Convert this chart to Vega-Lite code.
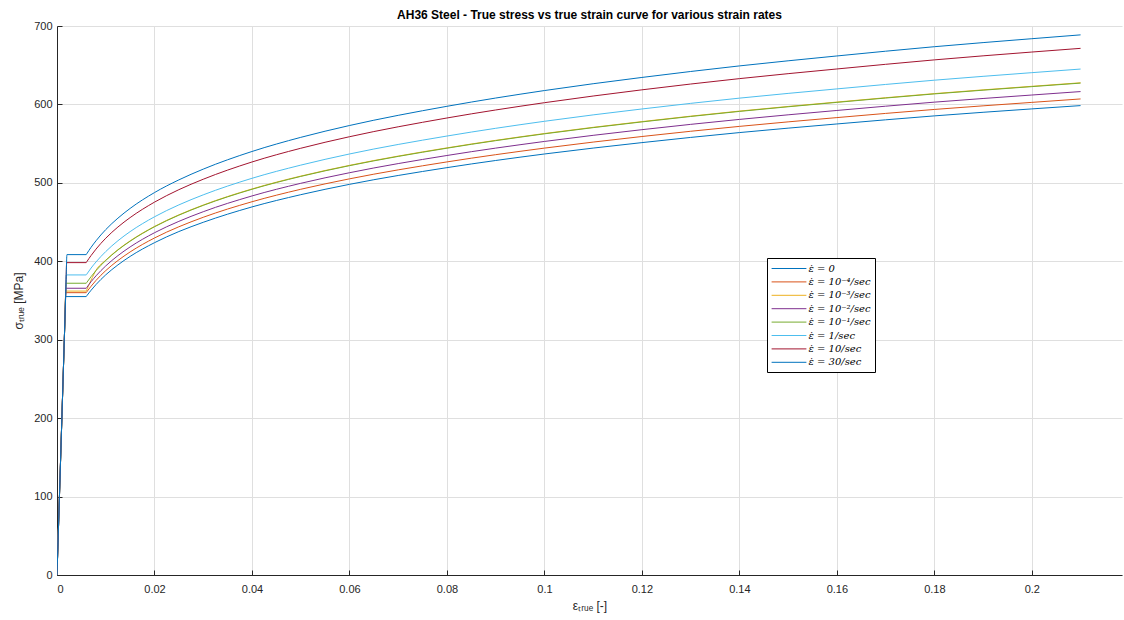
{
  "$schema": "https://vega.github.io/schema/vega-lite/v6.json",
  "width": 1065,
  "height": 549,
  "autosize": {"type": "none"},
  "padding": {"left": 57, "top": 26, "right": 2, "bottom": 45},
  "background": "white",
  "title": {
    "text": "AH36 Steel - True stress vs true strain curve for various strain rates",
    "font": "Liberation Sans",
    "fontSize": 12,
    "fontWeight": "bold",
    "color": "#000000",
    "anchor": "middle",
    "offset": -2
  },
  "config": {
    "view": {"stroke": null},
    "axis": {
      "labelFont": "Liberation Sans",
      "labelFontSize": 11,
      "labelColor": "#262626",
      "titleFont": "Liberation Sans",
      "titleFontSize": 12,
      "titleFontWeight": "normal",
      "titleColor": "#262626",
      "domainColor": "#262626",
      "tickColor": "#262626",
      "gridColor": "#dfdfdf",
      "gridOpacity": 1
    }
  },
  "data": {
    "values": [
      {"rate": "ε̇ = 0", "strain": 0, "stress": 0},
      {"rate": "ε̇ = 0", "strain": 0.0015975, "stress": 319.5},
      {"rate": "ε̇ = 0", "strain": 0.001775, "stress": 355},
      {"rate": "ε̇ = 0", "strain": 0.006, "stress": 355},
      {"rate": "ε̇ = 0", "strain": 0.0061, "stress": 355.9},
      {"rate": "ε̇ = 0", "strain": 0.007, "stress": 363.1},
      {"rate": "ε̇ = 0", "strain": 0.008, "stress": 370.3},
      {"rate": "ε̇ = 0", "strain": 0.01, "stress": 382.7},
      {"rate": "ε̇ = 0", "strain": 0.0125, "stress": 395.4},
      {"rate": "ε̇ = 0", "strain": 0.015, "stress": 406.2},
      {"rate": "ε̇ = 0", "strain": 0.02, "stress": 423.7},
      {"rate": "ε̇ = 0", "strain": 0.025, "stress": 437.9},
      {"rate": "ε̇ = 0", "strain": 0.03, "stress": 449.7},
      {"rate": "ε̇ = 0", "strain": 0.04, "stress": 469.3},
      {"rate": "ε̇ = 0", "strain": 0.05, "stress": 484.9},
      {"rate": "ε̇ = 0", "strain": 0.06, "stress": 498.1},
      {"rate": "ε̇ = 0", "strain": 0.08, "stress": 519.4},
      {"rate": "ε̇ = 0", "strain": 0.1, "stress": 536.8},
      {"rate": "ε̇ = 0", "strain": 0.12, "stress": 551.3},
      {"rate": "ε̇ = 0", "strain": 0.14, "stress": 564.1},
      {"rate": "ε̇ = 0", "strain": 0.16, "stress": 575.1},
      {"rate": "ε̇ = 0", "strain": 0.18, "stress": 585.4},
      {"rate": "ε̇ = 0", "strain": 0.2, "stress": 594.3},
      {"rate": "ε̇ = 0", "strain": 0.21, "stress": 598.5},

      {"rate": "ε̇ = 10⁻⁴/sec", "strain": 0, "stress": 0},
      {"rate": "ε̇ = 10⁻⁴/sec", "strain": 0.00162, "stress": 324},
      {"rate": "ε̇ = 10⁻⁴/sec", "strain": 0.0018, "stress": 360},
      {"rate": "ε̇ = 10⁻⁴/sec", "strain": 0.006, "stress": 360},
      {"rate": "ε̇ = 10⁻⁴/sec", "strain": 0.0061, "stress": 360.9},
      {"rate": "ε̇ = 10⁻⁴/sec", "strain": 0.007, "stress": 368.2},
      {"rate": "ε̇ = 10⁻⁴/sec", "strain": 0.008, "stress": 375.6},
      {"rate": "ε̇ = 10⁻⁴/sec", "strain": 0.01, "stress": 388.1},
      {"rate": "ε̇ = 10⁻⁴/sec", "strain": 0.0125, "stress": 401.0},
      {"rate": "ε̇ = 10⁻⁴/sec", "strain": 0.015, "stress": 411.9},
      {"rate": "ε̇ = 10⁻⁴/sec", "strain": 0.02, "stress": 429.7},
      {"rate": "ε̇ = 10⁻⁴/sec", "strain": 0.025, "stress": 444.0},
      {"rate": "ε̇ = 10⁻⁴/sec", "strain": 0.03, "stress": 456.1},
      {"rate": "ε̇ = 10⁻⁴/sec", "strain": 0.04, "stress": 475.9},
      {"rate": "ε̇ = 10⁻⁴/sec", "strain": 0.05, "stress": 491.8},
      {"rate": "ε̇ = 10⁻⁴/sec", "strain": 0.06, "stress": 505.1},
      {"rate": "ε̇ = 10⁻⁴/sec", "strain": 0.08, "stress": 526.7},
      {"rate": "ε̇ = 10⁻⁴/sec", "strain": 0.1, "stress": 544.3},
      {"rate": "ε̇ = 10⁻⁴/sec", "strain": 0.12, "stress": 559.1},
      {"rate": "ε̇ = 10⁻⁴/sec", "strain": 0.14, "stress": 572.0},
      {"rate": "ε̇ = 10⁻⁴/sec", "strain": 0.16, "stress": 583.2},
      {"rate": "ε̇ = 10⁻⁴/sec", "strain": 0.18, "stress": 593.6},
      {"rate": "ε̇ = 10⁻⁴/sec", "strain": 0.2, "stress": 602.6},
      {"rate": "ε̇ = 10⁻⁴/sec", "strain": 0.21, "stress": 607.0},

      {"rate": "ε̇ = 10⁻³/sec", "strain": 0, "stress": 0},
      {"rate": "ε̇ = 10⁻³/sec", "strain": 0.001629, "stress": 325.8},
      {"rate": "ε̇ = 10⁻³/sec", "strain": 0.00181, "stress": 362},
      {"rate": "ε̇ = 10⁻³/sec", "strain": 0.006, "stress": 362},
      {"rate": "ε̇ = 10⁻³/sec", "strain": 0.0061, "stress": 363.5},
      {"rate": "ε̇ = 10⁻³/sec", "strain": 0.007, "stress": 376.0},
      {"rate": "ε̇ = 10⁻³/sec", "strain": 0.008, "stress": 388.5},
      {"rate": "ε̇ = 10⁻³/sec", "strain": 0.01, "stress": 401.4},
      {"rate": "ε̇ = 10⁻³/sec", "strain": 0.0125, "stress": 414.8},
      {"rate": "ε̇ = 10⁻³/sec", "strain": 0.015, "stress": 426.0},
      {"rate": "ε̇ = 10⁻³/sec", "strain": 0.02, "stress": 444.4},
      {"rate": "ε̇ = 10⁻³/sec", "strain": 0.025, "stress": 459.2},
      {"rate": "ε̇ = 10⁻³/sec", "strain": 0.03, "stress": 471.7},
      {"rate": "ε̇ = 10⁻³/sec", "strain": 0.04, "stress": 492.2},
      {"rate": "ε̇ = 10⁻³/sec", "strain": 0.05, "stress": 508.6},
      {"rate": "ε̇ = 10⁻³/sec", "strain": 0.06, "stress": 522.3},
      {"rate": "ε̇ = 10⁻³/sec", "strain": 0.08, "stress": 544.6},
      {"rate": "ε̇ = 10⁻³/sec", "strain": 0.1, "stress": 562.9},
      {"rate": "ε̇ = 10⁻³/sec", "strain": 0.12, "stress": 578.1},
      {"rate": "ε̇ = 10⁻³/sec", "strain": 0.14, "stress": 591.5},
      {"rate": "ε̇ = 10⁻³/sec", "strain": 0.16, "stress": 603.0},
      {"rate": "ε̇ = 10⁻³/sec", "strain": 0.18, "stress": 613.8},
      {"rate": "ε̇ = 10⁻³/sec", "strain": 0.2, "stress": 623.1},
      {"rate": "ε̇ = 10⁻³/sec", "strain": 0.21, "stress": 627.6},

      {"rate": "ε̇ = 10⁻²/sec", "strain": 0, "stress": 0},
      {"rate": "ε̇ = 10⁻²/sec", "strain": 0.001645, "stress": 329.0},
      {"rate": "ε̇ = 10⁻²/sec", "strain": 0.00183, "stress": 365.6},
      {"rate": "ε̇ = 10⁻²/sec", "strain": 0.006, "stress": 365.6},
      {"rate": "ε̇ = 10⁻²/sec", "strain": 0.0061, "stress": 366.5},
      {"rate": "ε̇ = 10⁻²/sec", "strain": 0.007, "stress": 374.0},
      {"rate": "ε̇ = 10⁻²/sec", "strain": 0.008, "stress": 381.4},
      {"rate": "ε̇ = 10⁻²/sec", "strain": 0.01, "stress": 394.1},
      {"rate": "ε̇ = 10⁻²/sec", "strain": 0.0125, "stress": 407.2},
      {"rate": "ε̇ = 10⁻²/sec", "strain": 0.015, "stress": 418.3},
      {"rate": "ε̇ = 10⁻²/sec", "strain": 0.02, "stress": 436.4},
      {"rate": "ε̇ = 10⁻²/sec", "strain": 0.025, "stress": 450.9},
      {"rate": "ε̇ = 10⁻²/sec", "strain": 0.03, "stress": 463.2},
      {"rate": "ε̇ = 10⁻²/sec", "strain": 0.04, "stress": 483.3},
      {"rate": "ε̇ = 10⁻²/sec", "strain": 0.05, "stress": 499.4},
      {"rate": "ε̇ = 10⁻²/sec", "strain": 0.06, "stress": 512.9},
      {"rate": "ε̇ = 10⁻²/sec", "strain": 0.08, "stress": 534.9},
      {"rate": "ε̇ = 10⁻²/sec", "strain": 0.1, "stress": 552.8},
      {"rate": "ε̇ = 10⁻²/sec", "strain": 0.12, "stress": 567.8},
      {"rate": "ε̇ = 10⁻²/sec", "strain": 0.14, "stress": 580.9},
      {"rate": "ε̇ = 10⁻²/sec", "strain": 0.16, "stress": 592.3},
      {"rate": "ε̇ = 10⁻²/sec", "strain": 0.18, "stress": 602.9},
      {"rate": "ε̇ = 10⁻²/sec", "strain": 0.2, "stress": 612.0},
      {"rate": "ε̇ = 10⁻²/sec", "strain": 0.21, "stress": 616.4},

      {"rate": "ε̇ = 10⁻¹/sec", "strain": 0, "stress": 0},
      {"rate": "ε̇ = 10⁻¹/sec", "strain": 0.001674, "stress": 334.8},
      {"rate": "ε̇ = 10⁻¹/sec", "strain": 0.00186, "stress": 372},
      {"rate": "ε̇ = 10⁻¹/sec", "strain": 0.006, "stress": 372},
      {"rate": "ε̇ = 10⁻¹/sec", "strain": 0.0061, "stress": 372.9},
      {"rate": "ε̇ = 10⁻¹/sec", "strain": 0.007, "stress": 380.5},
      {"rate": "ε̇ = 10⁻¹/sec", "strain": 0.008, "stress": 388.1},
      {"rate": "ε̇ = 10⁻¹/sec", "strain": 0.01, "stress": 401.0},
      {"rate": "ε̇ = 10⁻¹/sec", "strain": 0.0125, "stress": 414.4},
      {"rate": "ε̇ = 10⁻¹/sec", "strain": 0.015, "stress": 425.6},
      {"rate": "ε̇ = 10⁻¹/sec", "strain": 0.02, "stress": 444.0},
      {"rate": "ε̇ = 10⁻¹/sec", "strain": 0.025, "stress": 458.8},
      {"rate": "ε̇ = 10⁻¹/sec", "strain": 0.03, "stress": 471.3},
      {"rate": "ε̇ = 10⁻¹/sec", "strain": 0.04, "stress": 491.8},
      {"rate": "ε̇ = 10⁻¹/sec", "strain": 0.05, "stress": 508.2},
      {"rate": "ε̇ = 10⁻¹/sec", "strain": 0.06, "stress": 521.9},
      {"rate": "ε̇ = 10⁻¹/sec", "strain": 0.08, "stress": 544.2},
      {"rate": "ε̇ = 10⁻¹/sec", "strain": 0.1, "stress": 562.5},
      {"rate": "ε̇ = 10⁻¹/sec", "strain": 0.12, "stress": 577.7},
      {"rate": "ε̇ = 10⁻¹/sec", "strain": 0.14, "stress": 591.1},
      {"rate": "ε̇ = 10⁻¹/sec", "strain": 0.16, "stress": 602.6},
      {"rate": "ε̇ = 10⁻¹/sec", "strain": 0.18, "stress": 613.4},
      {"rate": "ε̇ = 10⁻¹/sec", "strain": 0.2, "stress": 622.7},
      {"rate": "ε̇ = 10⁻¹/sec", "strain": 0.21, "stress": 627.2},

      {"rate": "ε̇ = 1/sec", "strain": 0, "stress": 0},
      {"rate": "ε̇ = 1/sec", "strain": 0.001722, "stress": 344.3},
      {"rate": "ε̇ = 1/sec", "strain": 0.00191, "stress": 382.6},
      {"rate": "ε̇ = 1/sec", "strain": 0.006, "stress": 382.6},
      {"rate": "ε̇ = 1/sec", "strain": 0.0061, "stress": 383.5},
      {"rate": "ε̇ = 1/sec", "strain": 0.007, "stress": 391.4},
      {"rate": "ε̇ = 1/sec", "strain": 0.008, "stress": 399.1},
      {"rate": "ε̇ = 1/sec", "strain": 0.01, "stress": 412.4},
      {"rate": "ε̇ = 1/sec", "strain": 0.0125, "stress": 426.2},
      {"rate": "ε̇ = 1/sec", "strain": 0.015, "stress": 437.8},
      {"rate": "ε̇ = 1/sec", "strain": 0.02, "stress": 456.7},
      {"rate": "ε̇ = 1/sec", "strain": 0.025, "stress": 471.9},
      {"rate": "ε̇ = 1/sec", "strain": 0.03, "stress": 484.7},
      {"rate": "ε̇ = 1/sec", "strain": 0.04, "stress": 505.8},
      {"rate": "ε̇ = 1/sec", "strain": 0.05, "stress": 522.6},
      {"rate": "ε̇ = 1/sec", "strain": 0.06, "stress": 536.8},
      {"rate": "ε̇ = 1/sec", "strain": 0.08, "stress": 559.7},
      {"rate": "ε̇ = 1/sec", "strain": 0.1, "stress": 578.5},
      {"rate": "ε̇ = 1/sec", "strain": 0.12, "stress": 594.2},
      {"rate": "ε̇ = 1/sec", "strain": 0.14, "stress": 608.0},
      {"rate": "ε̇ = 1/sec", "strain": 0.16, "stress": 619.8},
      {"rate": "ε̇ = 1/sec", "strain": 0.18, "stress": 630.9},
      {"rate": "ε̇ = 1/sec", "strain": 0.2, "stress": 640.5},
      {"rate": "ε̇ = 1/sec", "strain": 0.21, "stress": 645.1},

      {"rate": "ε̇ = 10/sec", "strain": 0, "stress": 0},
      {"rate": "ε̇ = 10/sec", "strain": 0.001791, "stress": 358.5},
      {"rate": "ε̇ = 10/sec", "strain": 0.00199, "stress": 398.3},
      {"rate": "ε̇ = 10/sec", "strain": 0.006, "stress": 398.3},
      {"rate": "ε̇ = 10/sec", "strain": 0.0061, "stress": 399.3},
      {"rate": "ε̇ = 10/sec", "strain": 0.007, "stress": 407.4},
      {"rate": "ε̇ = 10/sec", "strain": 0.008, "stress": 415.5},
      {"rate": "ε̇ = 10/sec", "strain": 0.01, "stress": 429.4},
      {"rate": "ε̇ = 10/sec", "strain": 0.0125, "stress": 443.7},
      {"rate": "ε̇ = 10/sec", "strain": 0.015, "stress": 455.7},
      {"rate": "ε̇ = 10/sec", "strain": 0.02, "stress": 475.4},
      {"rate": "ε̇ = 10/sec", "strain": 0.025, "stress": 491.3},
      {"rate": "ε̇ = 10/sec", "strain": 0.03, "stress": 504.6},
      {"rate": "ε̇ = 10/sec", "strain": 0.04, "stress": 526.6},
      {"rate": "ε̇ = 10/sec", "strain": 0.05, "stress": 544.1},
      {"rate": "ε̇ = 10/sec", "strain": 0.06, "stress": 558.8},
      {"rate": "ε̇ = 10/sec", "strain": 0.08, "stress": 582.7},
      {"rate": "ε̇ = 10/sec", "strain": 0.1, "stress": 602.2},
      {"rate": "ε̇ = 10/sec", "strain": 0.12, "stress": 618.6},
      {"rate": "ε̇ = 10/sec", "strain": 0.14, "stress": 632.9},
      {"rate": "ε̇ = 10/sec", "strain": 0.16, "stress": 645.2},
      {"rate": "ε̇ = 10/sec", "strain": 0.18, "stress": 656.8},
      {"rate": "ε̇ = 10/sec", "strain": 0.2, "stress": 666.8},
      {"rate": "ε̇ = 10/sec", "strain": 0.21, "stress": 671.5},

      {"rate": "ε̇ = 30/sec", "strain": 0, "stress": 0},
      {"rate": "ε̇ = 30/sec", "strain": 0.001836, "stress": 367.7},
      {"rate": "ε̇ = 30/sec", "strain": 0.00204, "stress": 408.5},
      {"rate": "ε̇ = 30/sec", "strain": 0.006, "stress": 408.5},
      {"rate": "ε̇ = 30/sec", "strain": 0.0061, "stress": 409.5},
      {"rate": "ε̇ = 30/sec", "strain": 0.007, "stress": 417.9},
      {"rate": "ε̇ = 30/sec", "strain": 0.008, "stress": 426.1},
      {"rate": "ε̇ = 30/sec", "strain": 0.01, "stress": 440.4},
      {"rate": "ε̇ = 30/sec", "strain": 0.0125, "stress": 455.0},
      {"rate": "ε̇ = 30/sec", "strain": 0.015, "stress": 467.4},
      {"rate": "ε̇ = 30/sec", "strain": 0.02, "stress": 487.6},
      {"rate": "ε̇ = 30/sec", "strain": 0.025, "stress": 503.8},
      {"rate": "ε̇ = 30/sec", "strain": 0.03, "stress": 517.5},
      {"rate": "ε̇ = 30/sec", "strain": 0.04, "stress": 540.0},
      {"rate": "ε̇ = 30/sec", "strain": 0.05, "stress": 558.0},
      {"rate": "ε̇ = 30/sec", "strain": 0.06, "stress": 573.1},
      {"rate": "ε̇ = 30/sec", "strain": 0.08, "stress": 597.6},
      {"rate": "ε̇ = 30/sec", "strain": 0.1, "stress": 617.7},
      {"rate": "ε̇ = 30/sec", "strain": 0.12, "stress": 634.4},
      {"rate": "ε̇ = 30/sec", "strain": 0.14, "stress": 649.1},
      {"rate": "ε̇ = 30/sec", "strain": 0.16, "stress": 661.8},
      {"rate": "ε̇ = 30/sec", "strain": 0.18, "stress": 673.6},
      {"rate": "ε̇ = 30/sec", "strain": 0.2, "stress": 683.8},
      {"rate": "ε̇ = 30/sec", "strain": 0.21, "stress": 688.7}
    ]
  },
  "mark": {"type": "line", "strokeWidth": 1, "clip": true, "interpolate": "monotone"},
  "encoding": {
    "x": {
      "field": "strain",
      "type": "quantitative",
      "scale": {"domain": [0, 0.2185], "nice": false, "zero": true},
      "axis": {
        "title": "εₜᵣᵤₑ [-]",
        "values": [0, 0.02, 0.04, 0.06, 0.08, 0.1, 0.12, 0.14, 0.16, 0.18, 0.2],
        "format": "~g",
        "tickSize": -5,
        "labelPadding": 13,
        "titlePadding": 6,
        "grid": true
      }
    },
    "y": {
      "field": "stress",
      "type": "quantitative",
      "scale": {"domain": [0, 700], "nice": false},
      "axis": {
        "title": "σₜᵣᵤₑ [MPa]",
        "values": [0, 100, 200, 300, 400, 500, 600, 700],
        "tickSize": -5,
        "labelPadding": 10,
        "titlePadding": 8,
        "grid": true
      }
    },
    "color": {
      "field": "rate",
      "type": "nominal",
      "scale": {
        "domain": ["ε̇ = 0", "ε̇ = 10⁻⁴/sec", "ε̇ = 10⁻³/sec", "ε̇ = 10⁻²/sec", "ε̇ = 10⁻¹/sec", "ε̇ = 1/sec", "ε̇ = 10/sec", "ε̇ = 30/sec"],
        "range": ["#0072BD", "#D95319", "#EDB120", "#7E2F8E", "#77AC30", "#4DBEEE", "#A2142F", "#0072BD"]
      },
      "legend": {
        "title": null,
        "orient": "none",
        "legendX": 710,
        "legendY": 232,
        "fillColor": "white",
        "strokeColor": "#000000",
        "padding": 4,
        "symbolType": "M-2.9,0H2.9",
        "symbolSize": 144,
        "symbolStrokeWidth": 1,
        "symbolOffset": 11.5,
        "labelFont": "DejaVu Serif",
        "labelFontStyle": "italic",
        "labelFontSize": 10,
        "labelColor": "#000000",
        "labelOffset": 13,
        "rowPadding": 1.4
      }
    }
  }
}
